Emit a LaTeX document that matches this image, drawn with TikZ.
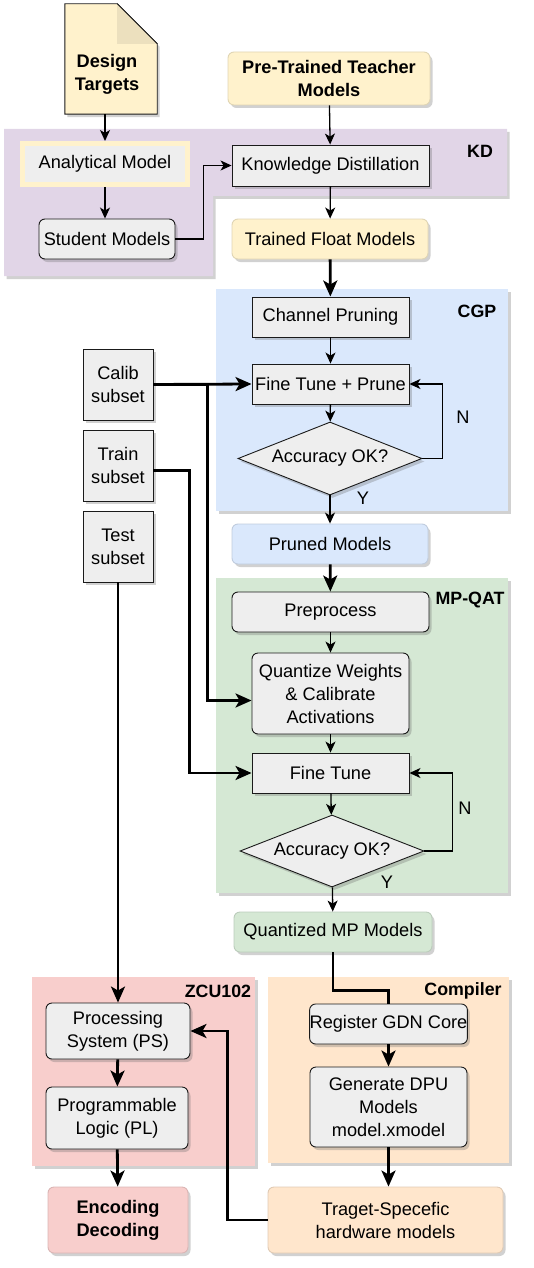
\documentclass[tikz,border=0pt]{standalone}
\usepackage{fontspec}
\setmainfont{Liberation Sans}
\usepackage{xcolor}
\usetikzlibrary{arrows.meta,positioning,shapes.geometric,shadows}
\definecolor{boxgray}{HTML}{EEEEEE}
\definecolor{inkblack}{HTML}{1A1A1A}
\definecolor{tintcream}{HTML}{FFF2CC}
\definecolor{foldcream}{HTML}{ECE0BE}
\definecolor{tintpurple}{HTML}{E1D5E7}
\definecolor{tintblue}{HTML}{DAE8FC}
\definecolor{tintgreen}{HTML}{D5E8D4}
\definecolor{tintpink}{HTML}{F8CECC}
\definecolor{tintorange}{HTML}{FFE6CC}
\tikzset{
  shadowed/.style={drop shadow={shadow xshift=2.5pt,shadow yshift=-3pt,opacity=0.3,fill=black!60}},
  stepnode/.style={draw=inkblack,line width=0.9pt,fill=boxgray,inner sep=0pt,align=center,font=\fontsize{18.2}{23}\selectfont,shadowed},
  roundnode/.style={stepnode,rounded corners=6pt},
  tintnode/.style={roundnode,fill=#1,draw=#1!88!black},
  boldnode/.style={font=\bfseries\fontsize{18.2}{23}\selectfont},
  decision/.style={stepnode,diamond,aspect=2.5},
  regiontag/.style={font=\bfseries\fontsize{17.8}{21}\selectfont,inner sep=0pt},
  plaintext/.style={font=\fontsize{18.2}{23}\selectfont,inner sep=0pt,align=center},
  flowarrow/.style={-{Stealth[length=11pt,width=10pt,inset=3pt]},line width=1.3pt,draw=black},
  thickarrow/.style={-{Stealth[length=16pt,width=14pt,inset=4pt]},line width=2.8pt,draw=black},
  thickline/.style={line width=2.8pt,draw=black},
}
\begin{document}
\begin{tikzpicture}[x=1pt,y=-1pt]
    \useasboundingbox (0,0) rectangle (534,1268);
    \fill[tintpurple,shadowed] (4,129) -- (507,129) -- (507,196) -- (213,196) -- (213,276) -- (4,276) -- cycle;
    \fill[tintblue,shadowed] (216,289) rectangle (508,511);
    \fill[tintgreen,shadowed] (216,578) rectangle (508,893);
    \fill[tintpink,shadowed] (32,977) rectangle (255,1166);
    \fill[tintorange,shadowed] (268,977) rectangle (509,1163);
    \node[regiontag] (kdtag) at (480,151) {KD};
    \node[regiontag] (cgptag) at (477,311) {CGP};
    \node[regiontag] (qattag) at (470,600) {MP-QAT};
    \node[regiontag] (zcutag) at (218,991) {ZCU102};
    \node[regiontag] (comptag) at (463,991) {Compiler};

    \node[minimum width=92,minimum height=110,inner sep=0pt] (dt) at (111,59) {};
    \filldraw[fill=tintcream,draw=inkblack,line width=0.9pt,shadowed] (dt.north west) -- ([xshift=-40pt]dt.north east) -- ([yshift=-40pt]dt.north east) -- (dt.south east) -- (dt.south west) -- cycle;
    \fill[foldcream] ([xshift=-40pt]dt.north east) -- ([xshift=-40pt,yshift=-40pt]dt.north east) -- ([yshift=-40pt]dt.north east) -- cycle;
    \draw[inkblack,line width=0.9pt] ([xshift=-40pt]dt.north east) -- ([yshift=-40pt]dt.north east);
    \node[plaintext,boldnode] (dtlabel) at (107,74) {Design\\Targets};
    \node[tintnode=tintcream,boldnode,minimum width=202,minimum height=53] (teacher) at (329,78.5) {Pre-Trained Teacher\\Models};
    \node[stepnode,draw=tintcream,line width=5pt,minimum width=165,minimum height=41] (am) at (105,164) {Analytical Model};
    \node[stepnode,minimum width=197,minimum height=41] (kd) at (330.5,165.5) {Knowledge Distillation};
    \node[roundnode,minimum width=136,minimum height=40] (sm) at (107,239) {Student Models};
    \node[tintnode=tintcream,minimum width=196,minimum height=40] (tfm) at (330,239) {Trained Float Models};

    \node[stepnode,minimum width=157,minimum height=40] (cp) at (330.5,317) {Channel Pruning};
    \node[stepnode,minimum width=157,minimum height=40] (ftp) at (330.5,384) {Fine Tune + Prune};
    \node[decision,minimum width=184,minimum height=73] (acc1) at (330,458.5) {Accuracy OK?};
    \node[stepnode,minimum width=70,minimum height=71] (calib) at (118,384.5) {Calib\\subset};
    \node[stepnode,minimum width=70,minimum height=71] (train) at (118,465.5) {Train\\subset};
    \node[stepnode,minimum width=70,minimum height=71] (test) at (118,546.5) {Test\\subset};
    \node[tintnode=tintblue,minimum width=196,minimum height=40] (pm) at (330,544) {Pruned Models};
    \node[plaintext] (n1) at (463,417) {N};
    \node[plaintext] (y1) at (363,498) {Y};

    \node[roundnode,minimum width=197,minimum height=40] (pre) at (330.5,612) {Preprocess};
    \node[roundnode,minimum width=157,minimum height=81] (qwc) at (330.5,693.5) {Quantize Weights\\\& Calibrate\\Activations};
    \node[stepnode,minimum width=157,minimum height=40] (ft) at (330.5,773) {Fine Tune};
    \node[decision,minimum width=184,minimum height=72] (acc2) at (332,851) {Accuracy OK?};
    \node[tintnode=tintgreen,minimum width=198,minimum height=40] (qmp) at (333,932) {Quantized MP Models};
    \node[plaintext] (n2) at (465,808) {N};
    \node[plaintext] (y2) at (387,882) {Y};

    \node[roundnode,minimum width=144,minimum height=56] (ps) at (118,1031) {Processing\\System (PS)};
    \node[roundnode,minimum width=142,minimum height=62] (pl) at (117,1118) {Programmable\\Logic (PL)};
    \node[tintnode=tintpink,boldnode,minimum width=140,minimum height=66] (ed) at (118,1220) {Encoding\\Decoding};
    \node[roundnode,minimum width=157,minimum height=40] (rgc) at (388.5,1024) {Register GDN Core};
    \node[roundnode,minimum width=157,minimum height=80] (gdm) at (388.5,1107) {Generate DPU\\Models\\model.xmodel};
    \node[tintnode=tintorange,minimum width=235,minimum height=66] (tsh) at (385.5,1220) {Traget-Specefic\\hardware models};

    \draw[flowarrow] (dt.south -| am) -- (am); \draw[flowarrow] (teacher) -- (kd);
    \draw[flowarrow] (am) -- (am |- sm.north); \draw[flowarrow] (sm.east) -- ++(28,0) |- (kd.west);
    \draw[flowarrow] (kd) -- (tfm); \draw[thickarrow] (tfm) -- (cp);
    \draw[flowarrow] (cp) -- (ftp); \draw[flowarrow] (ftp) -- (acc1);
    \draw[flowarrow] (acc1.east) -- ++(20,0) |- (ftp.east); \draw[flowarrow] (acc1) -- (pm);
    \draw[thickarrow] (calib.east) -- (ftp.west);
    \draw[thickarrow] (calib.east) -- ++(54,0) |- ([yshift=-7pt]qwc.west);
    \draw[thickarrow] ([yshift=-5pt]train.east) -- ++(36,0) |- (ft.west);
    \draw[thickarrow] (pm) -- (pre); \draw[flowarrow] (pre) -- (qwc); \draw[flowarrow] (qwc) -- (ft);
    \draw[flowarrow] (ft) -- (acc2); \draw[flowarrow] (acc2.east) -- ++(28,0) |- (ft.east);
    \draw[flowarrow] (acc2) -- (qmp);
    \draw[thickarrow] (test) -- (ps); \draw[thickarrow] (ps) -- (pl); \draw[thickarrow] (pl) -- (ed);
    \draw[thickline] (qmp.south) -- ++(0,38) -| (rgc.north);
    \draw[thickarrow] (rgc) -- (gdm); \draw[thickarrow] (gdm) -- (gdm |- tsh.north);
    \draw[thickarrow] (tsh.west) -- ++(-40,0) |- (ps.east);
  \end{tikzpicture}
\end{document}
